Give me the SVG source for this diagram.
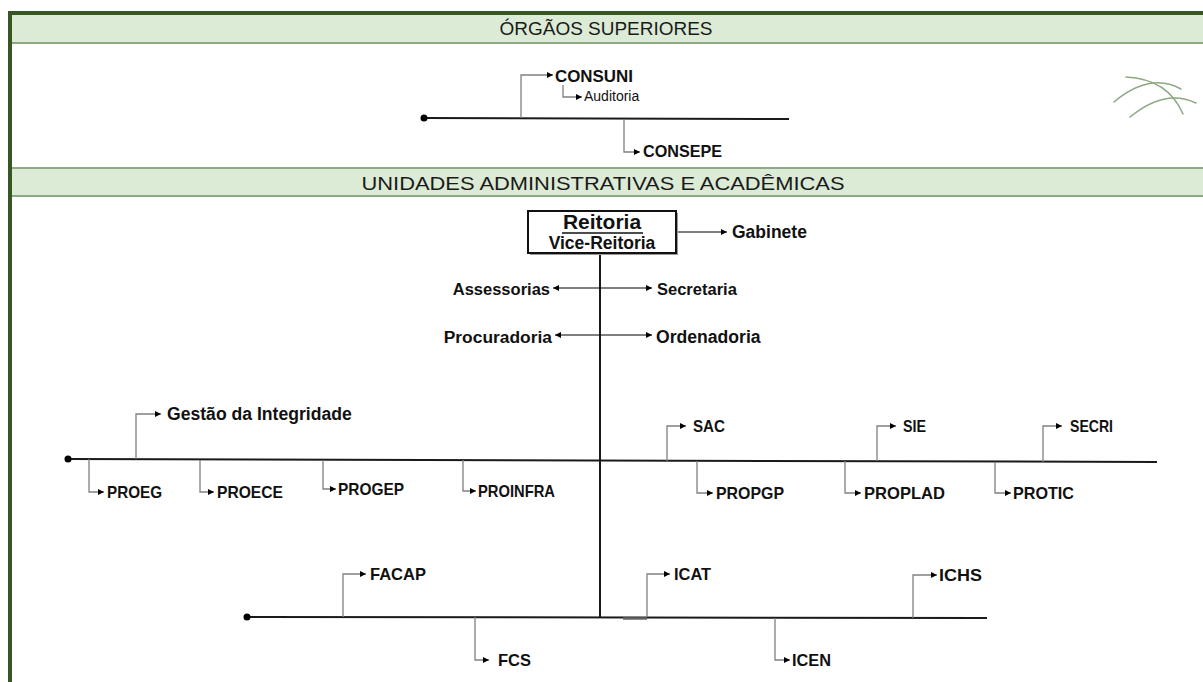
<svg xmlns="http://www.w3.org/2000/svg" width="1203" height="682" viewBox="0 0 1203 682">
<style>
text{font-family:"Liberation Sans",Arial,sans-serif;fill:#111}
.b{font-weight:bold}
.c{font-weight:bold;font-size:16.5px}
.hdr{fill:#1a1a1a}
.el{fill:none;stroke:#808080;stroke-width:1.3;marker-end:url(#ah)}
.bl{fill:none;stroke:#000;stroke-width:1;marker-end:url(#ah)}
.main{fill:none;stroke:#1a1a1a;stroke-width:2}
.deco{fill:none;stroke:#8ea882;stroke-width:1.5;stroke-linecap:round}
</style>
<defs>
<marker id="ah" viewBox="0 0 6 6" refX="6" refY="3" markerWidth="6" markerHeight="6" markerUnits="userSpaceOnUse" orient="auto">
<path d="M0,0 L6,3 L0,6 z" fill="#000"/>
</marker>
</defs>
<rect width="1203" height="682" fill="#fff"/>
<g id="frame">
<rect x="12" y="15" width="1191" height="27" fill="#dcebd5"/>
<rect x="12" y="42" width="1191" height="2" fill="#8ea886"/>
<rect x="12" y="167" width="1191" height="2" fill="#8ea886"/>
<rect x="12" y="169" width="1191" height="26" fill="#dcebd5"/>
<rect x="12" y="195" width="1191" height="2" fill="#8ea886"/>
<rect x="8" y="11" width="1195" height="4" fill="#375623"/>
<rect x="8" y="11" width="4" height="671" fill="#375623"/>
<text class="hdr" x="606" y="35" font-size="18" text-anchor="middle" textLength="213" lengthAdjust="spacingAndGlyphs">ÓRGÃOS SUPERIORES</text>
<text class="hdr" x="603" y="190" font-size="18" text-anchor="middle" textLength="483" lengthAdjust="spacingAndGlyphs">UNIDADES ADMINISTRATIVAS E ACADÊMICAS</text>
</g>
<g id="decoration">
<path class="deco" d="M1114,102 Q1150,72 1181,89"/>
<path class="deco" d="M1126,77 Q1168,79 1183,114"/>
<path class="deco" d="M1130,117 Q1165,88 1196,103"/>
</g>
<g id="connectors">
<line class="main" x1="424" y1="118" x2="789" y2="119"/>
<circle cx="424" cy="118" r="3.5" fill="#000"/>
<path class="el" d="M521,118 V75 H553"/>
<path class="el" d="M563,85 V97 H582"/>
<path class="el" d="M624,119 V152 H640"/>
<line class="main" x1="600" y1="253" x2="600" y2="618"/>
<path class="bl" d="M676,232 H727"/>
<path class="bl" d="M600,288 H553"/>
<path class="bl" d="M600,288 H652"/>
<path class="bl" d="M600,335 H555"/>
<path class="bl" d="M600,335 H652"/>
<line class="main" x1="68" y1="459" x2="1157" y2="462"/>
<circle cx="68" cy="459" r="3.5" fill="#000"/>
<path class="el" d="M136,459 V414 H161"/>
<path class="el" d="M667,461 V426 H686"/>
<path class="el" d="M877,461 V426 H896"/>
<path class="el" d="M1043,462 V426 H1062"/>
<path class="el" d="M89,459 V492 H104"/>
<path class="el" d="M200,460 V492 H214"/>
<path class="el" d="M323,460 V489 H336"/>
<path class="el" d="M463,460 V491 H476"/>
<path class="el" d="M697,461 V493 H713"/>
<path class="el" d="M845,461 V493 H861"/>
<path class="el" d="M995,462 V493 H1011"/>
<line class="main" x1="247" y1="617" x2="987" y2="618"/>
<circle cx="247" cy="617" r="3.5" fill="#000"/>
<line x1="623" y1="618.5" x2="647" y2="618.5" stroke="#666" stroke-width="2.5"/>
<path class="el" d="M343,617 V574 H366"/>
<path class="el" d="M647,617 V574 H670"/>
<path class="el" d="M913,618 V575 H937"/>
<path class="el" d="M475,617 V660 H489"/>
<path class="el" d="M775,618 V660 H790"/>
</g>
<g id="consuni"><text class="c" x="555" y="82" textLength="78" lengthAdjust="spacingAndGlyphs">CONSUNI</text></g>
<g id="auditoria"><text x="584" y="101" style="font-size:14px">Auditoria</text></g>
<g id="consepe"><text class="c" x="643" y="157" textLength="79" lengthAdjust="spacingAndGlyphs">CONSEPE</text></g>
<g id="reitoria">
<rect x="530" y="213" width="148" height="42" fill="#999"/>
<rect x="528" y="211" width="148" height="42" fill="#fff" stroke="#111" stroke-width="2"/>
<text class="b" x="602" y="229" text-anchor="middle" style="font-size:21px">Reitoria</text>
<line x1="562" y1="233" x2="643" y2="233" stroke="#111" stroke-width="1.5"/>
<text class="b" x="602" y="249" text-anchor="middle" style="font-size:17.5px">Vice-Reitoria</text>
</g>
<g id="gabinete"><text class="b" x="732" y="238" style="font-size:17.5px">Gabinete</text></g>
<g id="assessorias"><text class="b" x="550" y="295" text-anchor="end" style="font-size:16.5px">Assessorias</text></g>
<g id="secretaria"><text class="b" x="657" y="295" style="font-size:16.5px">Secretaria</text></g>
<g id="procuradoria"><text class="b" x="552" y="343" text-anchor="end" style="font-size:17.4px">Procuradoria</text></g>
<g id="ordenadoria"><text class="b" x="656" y="343" style="font-size:17.6px">Ordenadoria</text></g>
<g id="gestao"><text class="b" x="167" y="420" style="font-size:17.6px">Gestão da Integridade</text></g>
<g id="sac"><text class="c" x="693" y="432" textLength="32" lengthAdjust="spacingAndGlyphs">SAC</text></g>
<g id="sie"><text class="c" x="903" y="432" textLength="23" lengthAdjust="spacingAndGlyphs">SIE</text></g>
<g id="secri"><text class="c" x="1070" y="432" textLength="43" lengthAdjust="spacingAndGlyphs">SECRI</text></g>
<g id="proeg"><text class="c" x="107" y="498" textLength="55" lengthAdjust="spacingAndGlyphs">PROEG</text></g>
<g id="proece"><text class="c" x="217" y="498" textLength="66" lengthAdjust="spacingAndGlyphs">PROECE</text></g>
<g id="progep"><text class="c" x="338" y="495" textLength="66" lengthAdjust="spacingAndGlyphs">PROGEP</text></g>
<g id="proinfra"><text class="c" x="478" y="497" textLength="77" lengthAdjust="spacingAndGlyphs">PROINFRA</text></g>
<g id="propgp"><text class="c" x="716" y="499" textLength="68" lengthAdjust="spacingAndGlyphs">PROPGP</text></g>
<g id="proplad"><text class="c" x="864" y="499" textLength="81" lengthAdjust="spacingAndGlyphs">PROPLAD</text></g>
<g id="protic"><text class="c" x="1013" y="499" textLength="61" lengthAdjust="spacingAndGlyphs">PROTIC</text></g>
<g id="facap"><text class="c" x="370" y="580" textLength="56" lengthAdjust="spacingAndGlyphs">FACAP</text></g>
<g id="icat"><text class="c" x="674" y="580" textLength="37" lengthAdjust="spacingAndGlyphs">ICAT</text></g>
<g id="ichs"><text class="c" x="939" y="581" textLength="43" lengthAdjust="spacingAndGlyphs">ICHS</text></g>
<g id="fcs"><text class="c" x="498" y="666" textLength="33" lengthAdjust="spacingAndGlyphs">FCS</text></g>
<g id="icen"><text class="c" x="792" y="666" textLength="39" lengthAdjust="spacingAndGlyphs">ICEN</text></g>
</svg>
